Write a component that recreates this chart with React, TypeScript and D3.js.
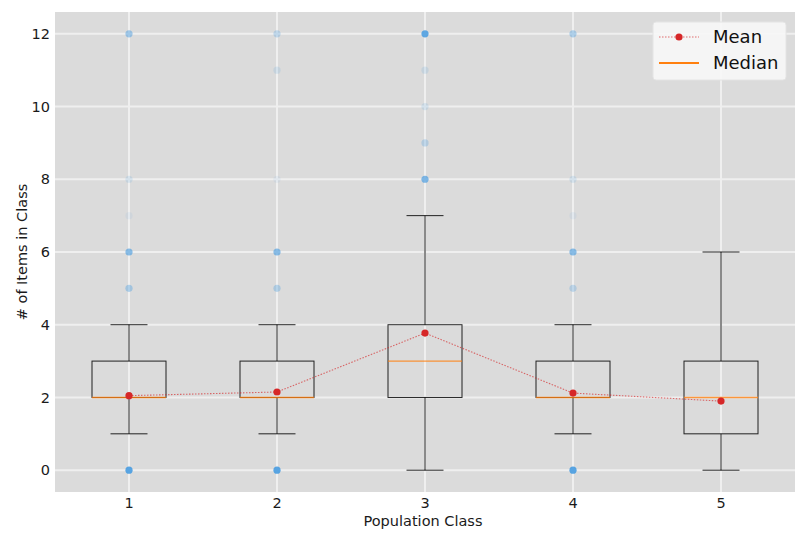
import * as d3 from "d3";
import { useEffect, useRef } from "react";

const classes = [1, 2, 3, 4, 5];
const q1 = [2, 2, 2, 2, 1];
const medians = [2, 2, 3, 2, 2];
const q3 = [3, 3, 4, 3, 3];
const whiskerLow = [1, 1, 0, 1, 0];
const whiskerHigh = [4, 4, 7, 4, 6];
const means = [2.05, 2.15, 3.77, 2.12, 1.9];
// outliers per class: [value, number of overlapping points]
const outliers: [number, number][][] = [
  [[0, 30], [5, 6], [6, 12], [7, 1], [8, 2], [12, 8]],
  [[0, 30], [5, 5], [6, 12], [8, 1], [11, 2], [12, 4]],
  [[8, 14], [9, 4], [10, 2], [11, 2], [12, 25]],
  [[0, 30], [5, 4], [6, 12], [7, 1], [8, 2], [12, 6]],
  [],
];
const yTicks = [0, 2, 4, 6, 8, 10, 12];

const W = 795;
const H = 534;
const margin = { top: 12, right: 0, bottom: 42, left: 55 };
const font = "DejaVu Sans, sans-serif";

export default function App() {
  const svgRef = useRef<SVGSVGElement>(null);

  useEffect(() => {
    if (!svgRef.current) return;
    draw(svgRef.current);
  }, []);

  return (
    <div style={{ position: "absolute", left: 0, top: 0 }}>
      <svg ref={svgRef} width={W} height={H} style={{ display: "block" }} />
    </div>
  );
}

function draw(el: SVGSVGElement) {
  const svg = d3.select(el);
  svg.selectAll("*").remove();

  const left = margin.left;
  const right = W - margin.right;
  const top = margin.top;
  const bottom = H - margin.bottom;

  const x = d3.scaleLinear().domain([0.5, 5.5]).range([left, right]);
  const y = d3.scaleLinear().domain([-0.6, 12.6]).range([bottom, top]);

  svg.append("rect").attr("width", W).attr("height", H).attr("fill", "#ffffff");

  svg
    .append("rect")
    .attr("x", left)
    .attr("y", top)
    .attr("width", right - left)
    .attr("height", bottom - top)
    .attr("fill", "#dbdbdb");

  const grid = svg.append("g");
  grid
    .selectAll(".yg")
    .data(yTicks)
    .join("line")
    .attr("x1", left)
    .attr("x2", right)
    .attr("y1", (d) => y(d))
    .attr("y2", (d) => y(d))
    .attr("stroke", "#efefef")
    .attr("stroke-width", 2);
  grid
    .selectAll(".xg")
    .data(classes)
    .join("line")
    .attr("x1", (d) => x(d))
    .attr("x2", (d) => x(d))
    .attr("y1", top)
    .attr("y2", bottom)
    .attr("stroke", "#efefef")
    .attr("stroke-width", 2);

  // tick labels
  svg
    .append("g")
    .selectAll("text")
    .data(yTicks)
    .join("text")
    .attr("x", left - 5)
    .attr("y", (d) => y(d))
    .attr("dy", "0.35em")
    .attr("text-anchor", "end")
    .attr("fill", "#1a1a1a")
    .style("font-family", font)
    .style("font-size", "14.5px")
    .text((d) => d);

  svg
    .append("g")
    .selectAll("text")
    .data(classes)
    .join("text")
    .attr("x", (d) => x(d))
    .attr("y", bottom + 16)
    .attr("text-anchor", "middle")
    .attr("fill", "#1a1a1a")
    .style("font-family", font)
    .style("font-size", "14.5px")
    .text((d) => d);

  svg
    .append("text")
    .attr("x", (left + right) / 2 - 2)
    .attr("y", H - 8)
    .attr("text-anchor", "middle")
    .attr("fill", "#1a1a1a")
    .style("font-family", font)
    .style("font-size", "14.5px")
    .text("Population Class");

  svg
    .append("text")
    .attr("transform", `translate(27, ${(top + bottom) / 2}) rotate(-90)`)
    .attr("text-anchor", "middle")
    .attr("fill", "#1a1a1a")
    .style("font-family", font)
    .style("font-size", "14.5px")
    .text("# of Items in Class");

  // outliers
  const flier = svg.append("g");
  outliers.forEach((list, i) => {
    list.forEach(([v, n]) => {
      flier
        .append("circle")
        .attr("cx", x(classes[i]))
        .attr("cy", y(v))
        .attr("r", 3.6)
        .attr("fill", "#4a9de0")
        .attr("opacity", 1 - Math.pow(0.92, n));
    });
  });

  const boxW = x(1.25) - x(1);
  const capW = x(1.125) - x(1);
  const boxes = svg
    .append("g")
    .selectAll("g")
    .data(classes)
    .join("g")
    .attr("stroke", "#000")
    .attr("stroke-opacity", 0.85)
    .attr("fill", "none");

  boxes
    .append("rect")
    .attr("x", (d) => x(d) - boxW)
    .attr("y", (_, i) => y(q3[i]))
    .attr("width", boxW * 2)
    .attr("height", (_, i) => y(q1[i]) - y(q3[i]));
  boxes
    .append("line")
    .attr("x1", (d) => x(d))
    .attr("x2", (d) => x(d))
    .attr("y1", (_, i) => y(q3[i]))
    .attr("y2", (_, i) => y(whiskerHigh[i]));
  boxes
    .append("line")
    .attr("x1", (d) => x(d))
    .attr("x2", (d) => x(d))
    .attr("y1", (_, i) => y(q1[i]))
    .attr("y2", (_, i) => y(whiskerLow[i]));
  boxes
    .append("line")
    .attr("x1", (d) => x(d) - capW)
    .attr("x2", (d) => x(d) + capW)
    .attr("y1", (_, i) => y(whiskerHigh[i]))
    .attr("y2", (_, i) => y(whiskerHigh[i]));
  boxes
    .append("line")
    .attr("x1", (d) => x(d) - capW)
    .attr("x2", (d) => x(d) + capW)
    .attr("y1", (_, i) => y(whiskerLow[i]))
    .attr("y2", (_, i) => y(whiskerLow[i]));
  boxes
    .append("line")
    .attr("x1", (d) => x(d) - boxW)
    .attr("x2", (d) => x(d) + boxW)
    .attr("y1", (_, i) => y(medians[i]))
    .attr("y2", (_, i) => y(medians[i]))
    .attr("stroke", "#ff7f0e")
    .attr("stroke-opacity", 0.8)
    .attr("stroke-width", 1.4);

  // mean line
  const line = d3
    .line<number>()
    .x((_, i) => x(classes[i]))
    .y((d) => y(d));
  svg
    .append("path")
    .attr("d", line(means))
    .attr("fill", "none")
    .attr("stroke", "#d62728")
    .attr("stroke-opacity", 0.65)
    .attr("stroke-width", 1.1)
    .attr("stroke-dasharray", "1.5,1.5");
  svg
    .append("g")
    .selectAll("circle")
    .data(means)
    .join("circle")
    .attr("cx", (_, i) => x(classes[i]))
    .attr("cy", (d) => y(d))
    .attr("r", 3.6)
    .attr("fill", "#d62728");

  // legend
  const lg = svg.append("g").attr("transform", "translate(653, 22)");
  lg.append("rect")
    .attr("width", 133)
    .attr("height", 58)
    .attr("rx", 3)
    .attr("fill", "#f7f7f7")
    .attr("fill-opacity", 0.9)
    .attr("stroke", "#e4e4e4");
  lg.append("line")
    .attr("x1", 6)
    .attr("x2", 46)
    .attr("y1", 15)
    .attr("y2", 15)
    .attr("stroke", "#d62728")
    .attr("stroke-opacity", 0.65)
    .attr("stroke-width", 1.1)
    .attr("stroke-dasharray", "1.5,1.5");
  lg.append("circle").attr("cx", 26).attr("cy", 15).attr("r", 3.6).attr("fill", "#d62728");
  lg.append("line")
    .attr("x1", 6)
    .attr("x2", 46)
    .attr("y1", 41)
    .attr("y2", 41)
    .attr("stroke", "#ff7f0e")
    .attr("stroke-width", 2);
  lg.selectAll("text")
    .data(["Mean", "Median"])
    .join("text")
    .attr("x", 60)
    .attr("y", (_, i) => 15 + i * 26)
    .attr("dy", "0.35em")
    .attr("fill", "#111")
    .style("font-family", font)
    .style("font-size", "18px")
    .text((d) => d);
}
